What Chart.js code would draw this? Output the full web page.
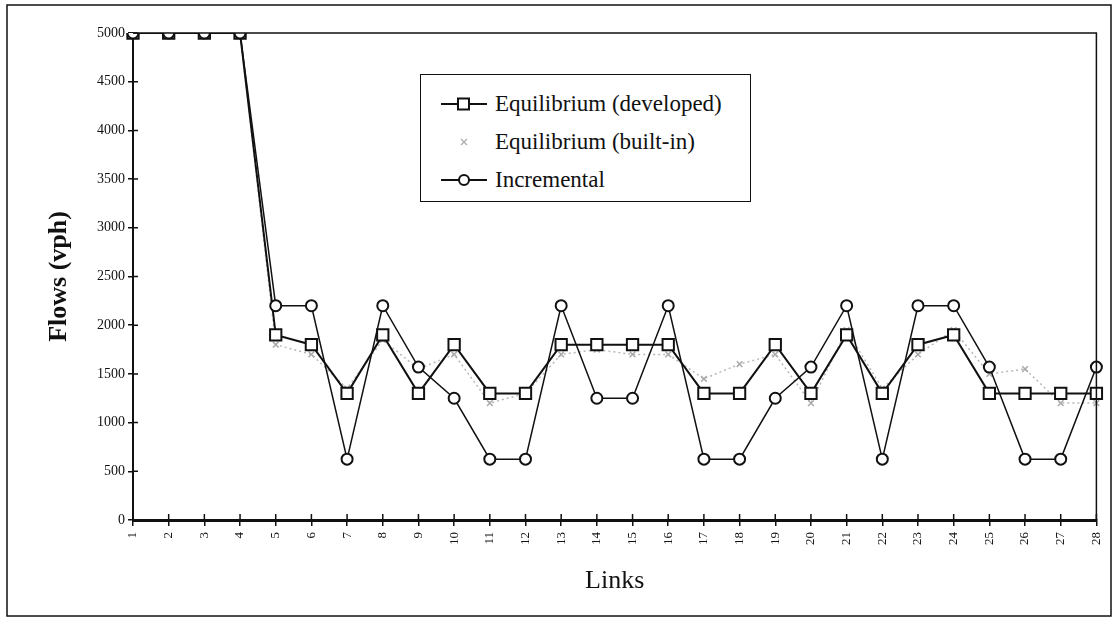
<!DOCTYPE html>
<html>
<head>
<meta charset="utf-8">
<script src="https://cdn.jsdelivr.net/npm/chart.js@4.4.1/dist/chart.umd.min.js"></script>
<style>
  body { margin: 0; background: #fff; }
  #wrap { position: relative; width: 1118px; height: 619px; }
  #legend {
    position: absolute; left: 420px; top: 74px; width: 331px; height: 128px;
    border: 1.5px solid #111; background: #fff; box-sizing: border-box;
    font-family: "Liberation Serif", "DejaVu Serif", serif; font-size: 23px; color: #111;
  }
  #legend .row { position: absolute; left: 0; height: 30px; display: flex; align-items: center; }
  #legend svg { margin-left: 20px; margin-right: 8px; }
</style>
</head>
<body>
<div id="wrap">
  <canvas id="flowChart" width="1118" height="619"></canvas>
  <div id="legend"></div>
</div>
<script>
// Link numbers on the x axis
const links = ['1','2','3','4','5','6','7','8','9','10','11','12','13','14',
               '15','16','17','18','19','20','21','22','23','24','25','26','27','28'];

// Flows (vph)
const eqDeveloped = [5000,5000,5000,5000,1900,1800,1300,1900,1300,1800,1300,1300,1800,1800,
                     1800,1800,1300,1300,1800,1300,1900,1300,1800,1900,1300,1300,1300,1300];
const eqBuiltIn = [5000,5000,5000,5000,1800,1700,1350,1850,1550,1700,1200,1300,1700,1750,
                   1700,1700,1450,1600,1700,1200,1950,1350,1700,1950,1500,1550,1200,1200];
const incremental = [5000,5000,5000,5000,2200,2200,625,2200,1570,1250,625,625,2200,1250,
                     1250,2200,625,625,1250,1570,2200,625,2200,2200,1570,625,625,1570];

const yTicks = [0,500,1000,1500,2000,2500,3000,3500,4000,4500,5000];
const seriesNames = ['Equilibrium (developed)', 'Equilibrium (built-in)', 'Incremental'];

const serif = "'Liberation Serif', 'DejaVu Serif', serif";

// Little ticks on the inside of the axes + plot frame + outer frame
const framePlugin = {
    id: 'frames',
    afterDraw(chart) {
        const ctx = chart.ctx;
        const a = chart.chartArea;
        const x = chart.scales.x, y = chart.scales.y;
        ctx.save();
        ctx.strokeStyle = '#111';
        ctx.lineWidth = 1.5;
        ctx.beginPath();
        ctx.moveTo(a.left, a.top);
        ctx.lineTo(a.right, a.top);
        ctx.lineTo(a.right, a.bottom);
        ctx.stroke();
        ctx.beginPath();
        yTicks.forEach(v => {
            const py = y.getPixelForValue(v);
            ctx.moveTo(a.left, py);
            ctx.lineTo(a.left + 5, py);
        });
        links.forEach((l, i) => {
            const px = x.getPixelForValue(i);
            ctx.moveTo(px, a.bottom);
            ctx.lineTo(px, a.bottom - 6);
        });
        ctx.stroke();
        ctx.strokeRect(7, 5, 1104, 611);
        ctx.restore();
    }
};

const ctx = document.getElementById('flowChart').getContext('2d');
const flowChart = new Chart(ctx, {
    type: 'line',
    data: {
        labels: links,
        datasets: [{
            label: seriesNames[0],
            data: eqDeveloped,
            borderColor: '#111',
            borderWidth: 2,
            pointStyle: 'rect',
            pointRadius: 8,
            pointBorderWidth: 2,
            pointBorderColor: '#111',
            pointBackgroundColor: '#fff',
            order: 2
        }, {
            label: seriesNames[1],
            data: eqBuiltIn,
            borderColor: '#b8b8b8',
            borderWidth: 1.5,
            borderDash: [2, 3],
            pointStyle: 'crossRot',
            pointRadius: 4,
            pointBorderWidth: 1.5,
            pointBorderColor: '#aaa',
            order: 3
        }, {
            label: seriesNames[2],
            data: incremental,
            borderColor: '#111',
            borderWidth: 1.5,
            pointStyle: 'circle',
            pointRadius: 5.5,
            pointBorderWidth: 2,
            pointBorderColor: '#111',
            pointBackgroundColor: '#fff',
            order: 1
        }]
    },
    options: {
        responsive: false,
        animation: false,
        layout: { padding: { left: 8, top: 33, right: 21, bottom: 8 } },
        plugins: { legend: { display: false }, tooltip: { enabled: false } },
        scales: {
            x: {
                offset: false,
                afterFit: s => { s.height = 91; },
                grid: { display: true, drawOnChartArea: false, drawTicks: true, tickLength: 6, color: '#111', lineWidth: 1.5 },
                border: { display: true, color: '#111', width: 3 },
                ticks: { color: '#111', minRotation: 90, maxRotation: 90, autoSkip: false, padding: 6,
                         font: { family: serif, size: 13 } },
                title: { display: true, text: 'Links', color: '#111', padding: { top: 0, bottom: 14 },
                         font: { family: serif, size: 26 } }
            },
            y: {
                min: 0, max: 5000,
                afterFit: s => { s.width = 125; },
                afterBuildTicks: s => { s.ticks = yTicks.map(v => ({ value: v })); },
                grid: { display: true, drawOnChartArea: false, drawTicks: true, tickLength: 5, color: '#111', lineWidth: 1.5 },
                border: { display: true, color: '#111', width: 2 },
                ticks: { color: '#111', padding: 3, font: { family: serif, size: 14 },
                         callback: v => String(v) },
                title: { display: true, text: 'Flows (vph)', color: '#111', padding: { top: 36 },
                         font: { family: serif, size: 26, weight: 'bold' } }
            }
        }
    },
    plugins: [framePlugin]
});

// Legend box drawn as HTML over the plot
function renderLegend() {
    const box = document.getElementById('legend');
    const samples = [
        '<svg width="46" height="16"><line x1="0" y1="8" x2="46" y2="8" stroke="#111" stroke-width="2"/><rect x="17" y="2.5" width="11" height="11" fill="#fff" stroke="#111" stroke-width="2"/></svg>',
        '<svg width="46" height="16"><path d="M20 5 L26 11 M26 5 L20 11" stroke="#aaa" stroke-width="1.2"/></svg>',
        '<svg width="46" height="16"><line x1="0" y1="8" x2="46" y2="8" stroke="#111" stroke-width="2"/><circle cx="23" cy="8" r="5" fill="#fff" stroke="#111" stroke-width="2"/></svg>'
    ];
    const tops = [14, 52, 90];
    box.innerHTML = seriesNames.map((name, i) =>
        `<div class="row" style="top:${tops[i]}px">${samples[i]}<span>${name}</span></div>`
    ).join('');
}

renderLegend();
</script>
</body>
</html>
